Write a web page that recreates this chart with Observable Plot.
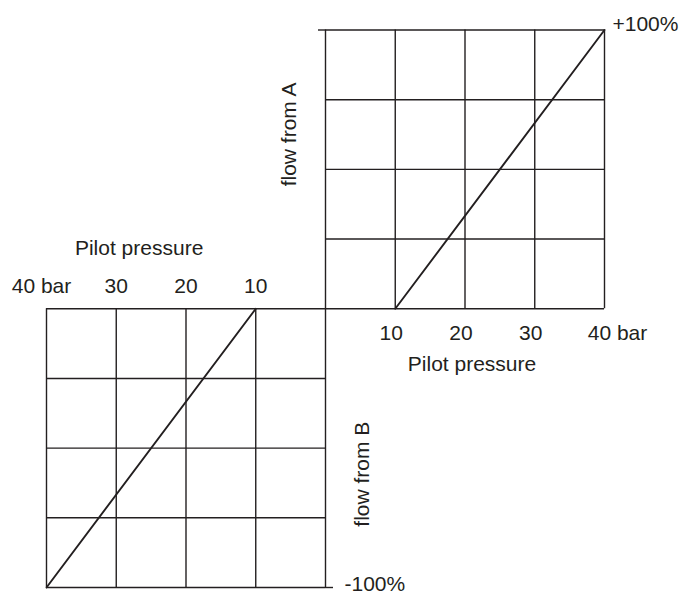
<!DOCTYPE html>
<html>
<head>
<meta charset="utf-8">
<script src="https://cdn.jsdelivr.net/npm/d3@7"></script>
<script src="https://cdn.jsdelivr.net/npm/@observablehq/plot@0.6"></script>
<style>
  html, body { margin: 0; padding: 0; background: #fff; }
  #chart svg { display: block; }
</style>
</head>
<body>
<div id="chart"></div>
<script>
// Pilot pressure grid (bar) and flow grid (%)
const pressureTicks = [10, 20, 30];
const pressureMax = 40;
const pressureGrid = [0, 10, 20, 30, 40];
const flowGrid = [0, 25, 50, 75, 100];
const maxLabel = "40 bar";

// characteristic curves: flow vs pilot pressure
const curveA = [{p: 10, flow: 0}, {p: 40, flow: 100}];     // flow from A
const curveB = [{p: 10, flow: 0}, {p: 40, flow: -100}];    // flow from B (plotted mirrored)

const ink = "#231f20";
const font = "'Liberation Sans', Arial, sans-serif";

const plot = Plot.plot({
  width: 687,
  height: 594,
  margin: 0,
  style: {fontFamily: font, fontSize: "21px", color: ink, background: "#fff"},
  x: {domain: [-40, 40], range: [46, 604], axis: null},
  y: {domain: [-100, 100], range: [587, 29.5], axis: null},
  marks: [
    // upper-right grid (flow from A)
    Plot.ruleX(pressureGrid, {x: d => d, y1: 0, y2: 100, stroke: ink, strokeWidth: 1.4}),
    Plot.ruleY(flowGrid, {y: d => d, x1: 0, x2: 40, stroke: ink, strokeWidth: 1.4}),
    Plot.ruleY([100], {x1: 0, x2: 0, insetLeft: -7, stroke: ink, strokeWidth: 1.4}),
    // lower-left grid (flow from B)
    Plot.ruleX(pressureGrid, {x: d => -d, y1: -100, y2: 0, stroke: ink, strokeWidth: 1.4}),
    Plot.ruleY(flowGrid, {y: d => -d, x1: -40, x2: 0, stroke: ink, strokeWidth: 1.4}),
    Plot.ruleY([-100], {x1: 0, x2: 0, insetRight: -8, stroke: ink, strokeWidth: 1.4}),
    // curves
    Plot.line(curveA, {x: "p", y: "flow", stroke: ink, strokeWidth: 1.9}),
    Plot.line(curveB, {x: d => -d.p, y: "flow", stroke: ink, strokeWidth: 1.9}),
    // end labels
    Plot.text(["+100%"], {x: 40, y: 100, text: d => d, textAnchor: "start", dx: 8, dy: -6, fill: ink}),
    Plot.text(["-100%"], {x: 0, y: -100, text: d => d, textAnchor: "start", dx: 19, dy: -3, fill: ink}),
    // lower pressure tick labels (right grid)
    Plot.text(pressureTicks, {x: d => d, y: 0, text: d => String(d), dx: -4, dy: 25, fill: ink}),
    Plot.text([pressureMax], {x: d => d, y: 0, text: () => maxLabel, dx: 13, dy: 25, fill: ink}),
    // upper pressure tick labels (left grid)
    Plot.text(pressureTicks, {x: d => -d, y: 0, text: d => String(d), dx: 0, dy: -22, fill: ink}),
    Plot.text([pressureMax], {x: d => -d, y: 0, text: () => maxLabel, dx: -5, dy: -22, fill: ink}),
    // axis titles
    Plot.text(["Pilot pressure"], {x: 20, y: 0, text: d => d, dx: 7, dy: 56, fill: ink}),
    Plot.text(["Pilot pressure"], {x: -25, y: 0, text: d => d, dx: -12, dy: -60, fill: ink}),
    Plot.text(["flow from A"], {x: 0, y: 50, text: d => d, rotate: -90, dx: -36, dy: -35, fill: ink}),
    Plot.text(["flow from B"], {x: 0, y: -50, text: d => d, rotate: -90, dx: 37, dy: 26, fill: ink})
  ]
});

document.getElementById("chart").append(plot);
</script>
</body>
</html>
